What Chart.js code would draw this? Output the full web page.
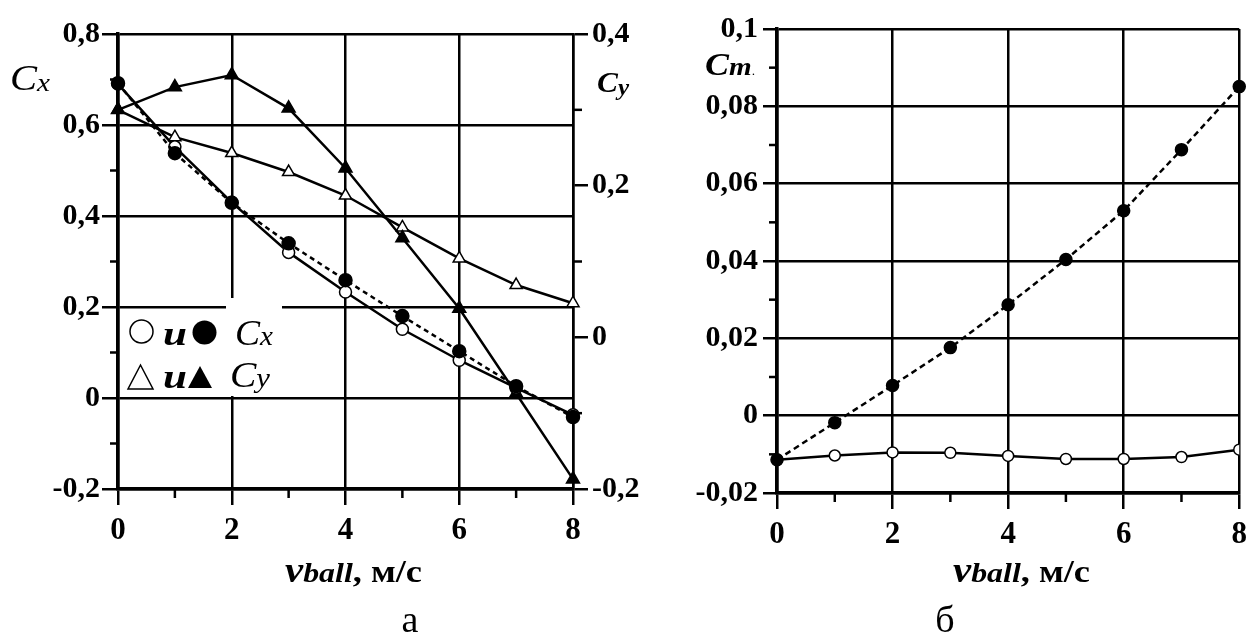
<!DOCTYPE html>
<html lang="ru">
<head>
  <meta charset="UTF-8" />
  <title>Cx, Cy, Cm vs vball</title>
  <script src="https://cdn.jsdelivr.net/npm/chart.js"></script>
  <style>
    body {
      margin: 0;
      background: #fff;
      width: 1254px;
      height: 633px;
      position: relative;
      overflow: hidden;
      font-family: "Liberation Serif", "Times New Roman", serif;
    }
    .panel { position: absolute; top: 0; }
    #panelA { left: 0; width: 660px; height: 633px; }
    #panelB { left: 660px; width: 594px; height: 633px; }
  </style>
</head>
<body>

  <div class="panel" id="panelA"><canvas id="chartA" width="660" height="633"></canvas></div>
  <div class="panel" id="panelB"><canvas id="chartB" width="594" height="633"></canvas></div>

  <script>
    // ball speed, m/s
    const vball = [0, 1, 2, 3, 4, 5, 6, 7, 8];

    // panel а: Cx (left axis), open = solid line, filled = dashed line
    const cxOpen   = [0.690, 0.552, 0.430, 0.320, 0.233, 0.151, 0.083, 0.022, -0.037];
    const cxFilled = [0.692, 0.538, 0.429, 0.340, 0.259, 0.180, 0.103, 0.026, -0.042];
    // panel а: Cy (right axis)
    const cyOpen   = [0.300, 0.264, 0.243, 0.218, 0.187, 0.145, 0.104, 0.069, 0.045];
    const cyFilled = [0.300, 0.330, 0.346, 0.302, 0.223, 0.131, 0.038, -0.074, -0.187];

    // panel б: Cm
    const cmOpen   = [-0.0114, -0.0103, -0.0095, -0.0096, -0.0104, -0.0112, -0.0112, -0.0107, -0.0088];
    const cmFilled = [-0.0114, -0.0018, 0.0078, 0.0176, 0.0287, 0.0404, 0.0530, 0.0688, 0.0851];

    // axis ranges
    const xRange  = [0, 8];
    const cxRange = [-0.2, 0.8];
    const cyRange = [-0.2, 0.4];
    const cmRange = [-0.02, 0.1];

    const SERIF = '"Liberation Serif", "Times New Roman", Times, serif';
    const NONE = 'rgba(0,0,0,0)';

    const comma = v => String(v).replace('.', ',');
    const isMajorX = v => Math.round(v) % 2 === 0;
    const isMajor10 = v => Math.round(v * 10) % 2 === 0;
    const isMajor100 = v => Math.round(v * 100) % 2 === 0;

    function series(values, opts) {
      return Object.assign({
        data: values.map((y, i) => ({ x: vball[i], y: y })),
        borderColor: '#000',
        borderWidth: 2.5,
        pointBorderColor: '#000',
        pointBorderWidth: 1.5,
        tension: 0,
        clip: false
      }, opts);
    }

    function xScale(h) {
      return {
        type: 'linear', min: xRange[0], max: xRange[1],
        afterFit: s => { s.height = h; },
        border: { color: '#000', width: 3.5 },
        grid: {
          color: c => isMajorX(c.tick.value) ? '#000' : NONE,
          tickColor: c => isMajorX(c.tick.value) ? '#000' : NONE,
          lineWidth: 2.5, tickWidth: 2.5, tickLength: 16
        },
        ticks: {
          stepSize: 1, autoSkip: false, maxRotation: 0, padding: 7, color: '#000',
          font: { family: SERIF, size: 31, weight: 'bold' },
          callback: v => isMajorX(v) ? String(v) : ''
        }
      };
    }

    // short unlabeled ticks between the labelled ones
    const minorTicks = {
      id: 'minorTicks',
      afterDraw(chart, args, opts) {
        const c = chart.ctx;
        c.save();
        c.strokeStyle = '#000';
        c.lineWidth = 2.5;
        (opts.list || []).forEach(m => {
          const s = chart.scales[m.scale];
          m.values.forEach(v => {
            const p = s.getPixelForValue(v);
            c.beginPath();
            if (s.isHorizontal()) { c.moveTo(p, s.top); c.lineTo(p, s.top + m.len); }
            else if (s.position === 'left') { c.moveTo(s.right, p); c.lineTo(s.right - m.len, p); }
            else { c.moveTo(s.left, p); c.lineTo(s.left + m.len, p); }
            c.stroke();
          });
        });
        c.restore();
      }
    };

    // text runs squeezed/stretched to a measured width
    function runs(c, parts, x0, base, width) {
      let total = 0;
      parts.forEach(p => { c.font = p.font; p.w = c.measureText(p.t).width; total += p.w; });
      const sx = width ? width / total : 1;
      c.save();
      c.translate(x0, base);
      c.scale(sx, 1);
      c.textAlign = 'left';
      c.textBaseline = 'alphabetic';
      let x = 0;
      parts.forEach(p => { c.font = p.font; c.fillText(p.t, x, p.dy || 0); x += p.w; });
      c.restore();
    }

    function xTitle(c, x0) {
      runs(c, [
        { t: 'v', font: `bold italic 36px ${SERIF}` },
        { t: 'ball', font: `bold italic 28px ${SERIF}` },
        { t: ', м/с', font: `bold 32px ${SERIF}` }
      ], x0, 582, 137);
    }

    function tri(c, x1, x2, yb, yt, fill) {
      c.beginPath();
      c.moveTo(x1, yb); c.lineTo(x2, yb); c.lineTo((x1 + x2) / 2, yt); c.closePath();
      if (fill) c.fill(); else c.stroke();
    }

    const decorA = {
      id: 'decorA',
      beforeDatasetsDraw(chart) {
        const c = chart.ctx;
        c.save();
        c.fillStyle = '#fff';
        c.fillRect(121, 309, 161, 87);
        c.fillRect(226, 298, 56, 13);
        c.restore();
      },
      afterDraw(chart) {
        const c = chart.ctx;
        c.save();
        c.fillStyle = '#000';
        c.strokeStyle = '#000';
        c.lineWidth = 1.5;

        runs(c, [{ t: 'C', font: `italic 36px ${SERIF}` }, { t: 'x', font: `italic 26px ${SERIF}`, dy: 1 }], 10, 90, 40);
        runs(c, [{ t: 'C', font: `bold italic 30px ${SERIF}` }, { t: 'y', font: `bold italic 24px ${SERIF}`, dy: 3 }], 597, 92, 32);

        // legend
        c.beginPath(); c.arc(141.5, 331.5, 11.5, 0, Math.PI * 2); c.stroke();
        runs(c, [{ t: 'u', font: `bold italic 34px ${SERIF}` }], 163, 345, 24);
        c.beginPath(); c.arc(204.5, 332.5, 12, 0, Math.PI * 2); c.fill();
        runs(c, [{ t: 'C', font: `italic 36px ${SERIF}` }, { t: 'x', font: `italic 28px ${SERIF}` }], 235, 345, 38);

        tri(c, 128, 153, 389, 365, false);
        runs(c, [{ t: 'u', font: `bold italic 34px ${SERIF}` }], 163, 388, 24);
        tri(c, 188, 212, 388, 366, true);
        runs(c, [{ t: 'C', font: `italic 36px ${SERIF}` }, { t: 'y', font: `italic 28px ${SERIF}` }], 230, 387, 40);

        xTitle(c, 285);
        c.font = `38px ${SERIF}`;
        c.textAlign = 'center';
        c.fillText('а', 410, 632);
        c.restore();
      }
    };

    const decorB = {
      id: 'decorB',
      afterDraw(chart) {
        const c = chart.ctx;
        c.save();
        c.fillStyle = '#000';
        runs(c, [
          { t: 'C', font: `bold italic 32px ${SERIF}` },
          { t: 'm', font: `bold italic 26px ${SERIF}` },
          { t: '.', font: `12px ${SERIF}` }
        ], 45, 75, 50);
        xTitle(c, 293);
        c.font = `38px ${SERIF}`;
        c.textAlign = 'center';
        c.fillText('б', 285, 632);
        c.restore();
      }
    };

    const yFont = { family: SERIF, size: 30, weight: 'bold' };

    // panel а
    new Chart(document.getElementById('chartA'), {
      type: 'line',
      data: {
        datasets: [
          series(cxFilled, { yAxisID: 'y', pointStyle: 'circle', pointRadius: 6.5, pointBackgroundColor: '#000', borderDash: [5, 4] }),
          series(cxOpen, { yAxisID: 'y', pointStyle: 'circle', pointRadius: 6, pointBackgroundColor: '#fff' }),
          series(cyFilled, { yAxisID: 'y2', pointStyle: 'triangle', pointRadius: 7.5, pointBackgroundColor: '#000' }),
          series(cyOpen, { yAxisID: 'y2', pointStyle: 'triangle', pointRadius: 7, pointBackgroundColor: '#fff' })
        ]
      },
      options: {
        responsive: false,
        animation: false,
        devicePixelRatio: 1,
        layout: { padding: { top: 34, left: 0, right: 0, bottom: 0 } },
        plugins: {
          legend: { display: false },
          tooltip: { enabled: false },
          minorTicks: {
            list: [
              { scale: 'x', values: [1, 3, 5, 7], len: 9 },
              { scale: 'y', values: [-0.1, 0.1, 0.3, 0.5, 0.7], len: 8 },
              { scale: 'y2', values: [-0.1, 0.1, 0.3], len: 9 }
            ]
          }
        },
        scales: {
          x: xScale(144),
          y: {
            type: 'linear', position: 'left', min: cxRange[0], max: cxRange[1],
            afterFit: s => { s.width = 118; },
            border: { color: '#000', width: 3.5 },
            grid: {
              color: c => isMajor10(c.tick.value) ? '#000' : NONE,
              tickColor: c => isMajor10(c.tick.value) ? '#000' : NONE,
              lineWidth: 2.5, tickWidth: 2.5, tickLength: 16
            },
            ticks: {
              stepSize: 0.1, maxTicksLimit: 20, autoSkip: false, padding: 2, color: '#000', font: yFont,
              callback: v => isMajor10(v) ? comma(Math.round(v * 10) / 10) : ''
            }
          },
          y2: {
            type: 'linear', position: 'right', min: cyRange[0], max: cyRange[1],
            afterFit: s => { s.width = 87; },
            border: { color: '#000', width: 2.5 },
            grid: {
              drawOnChartArea: false,
              color: c => isMajor10(c.tick.value) ? '#000' : NONE,
              tickColor: c => isMajor10(c.tick.value) ? '#000' : NONE,
              lineWidth: 2.5, tickWidth: 2.5, tickLength: 15
            },
            ticks: {
              stepSize: 0.1, maxTicksLimit: 20, autoSkip: false, padding: 4, color: '#000', font: yFont,
              callback: v => isMajor10(v) ? comma(Math.round(v * 10) / 10) : ''
            }
          }
        }
      },
      plugins: [minorTicks, decorA]
    });

    // panel б
    new Chart(document.getElementById('chartB'), {
      type: 'line',
      data: {
        datasets: [
          series(cmFilled, { pointStyle: 'circle', pointRadius: 6, pointBackgroundColor: '#000', borderDash: [6, 4] }),
          series(cmOpen, { pointStyle: 'circle', pointRadius: 5.5, pointBackgroundColor: '#fff', clip: undefined })
        ]
      },
      options: {
        responsive: false,
        animation: false,
        devicePixelRatio: 1,
        layout: { padding: { top: 29, left: 0, right: 11, bottom: 0 } },
        plugins: {
          legend: { display: false },
          tooltip: { enabled: false },
          minorTicks: {
            list: [
              { scale: 'x', values: [1, 3, 5, 7], len: 9 },
              { scale: 'y', values: [-0.01, 0.01, 0.03, 0.05, 0.07, 0.09], len: 8 }
            ]
          }
        },
        scales: {
          x: xScale(140),
          y: {
            type: 'linear', position: 'left', min: cmRange[0], max: cmRange[1],
            afterFit: s => { s.width = 117; },
            border: { color: '#000', width: 3.5 },
            grid: {
              color: c => isMajor100(c.tick.value) ? '#000' : NONE,
              tickColor: c => isMajor100(c.tick.value) ? '#000' : NONE,
              lineWidth: 2.5, tickWidth: 2.5, tickLength: 14
            },
            ticks: {
              stepSize: 0.01, maxTicksLimit: 20, autoSkip: false, padding: 5, color: '#000', font: yFont,
              callback: v => isMajor100(v) ? comma(Math.round(v * 100) / 100) : ''
            }
          }
        }
      },
      plugins: [minorTicks, decorB]
    });
  </script>

</body>
</html>
